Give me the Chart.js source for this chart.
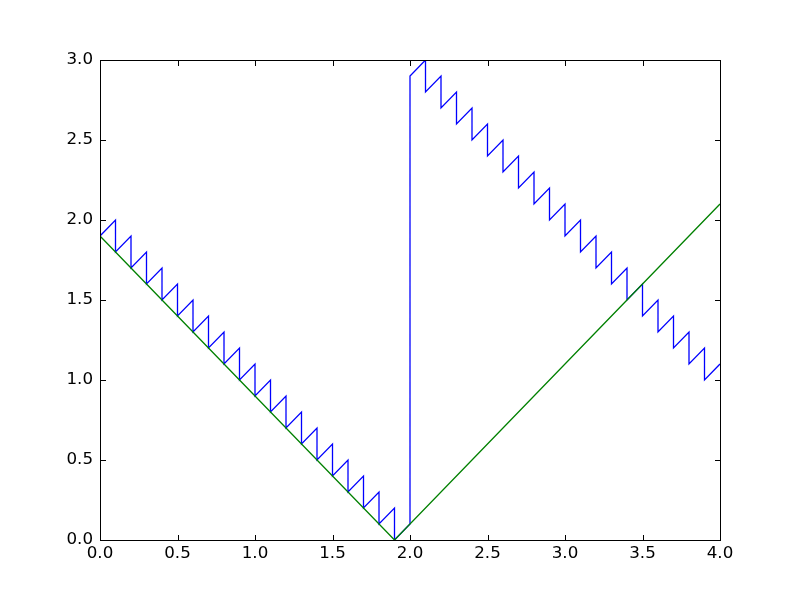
<!DOCTYPE html>
<html>
<head>
<meta charset="utf-8">
<script src="https://cdn.jsdelivr.net/npm/chart.js@4/dist/chart.umd.min.js"></script>
<style>
html,body{margin:0;padding:0;background:#fff;}
#wrap{width:800px;height:600px;position:relative;}
</style>
</head>
<body>
<div id="wrap"><canvas id="c" width="800" height="600"></canvas></div>
<script>
// Blue sawtooth series (vertices)
const blueX = [0,0.1,0.1,0.2,0.2,0.3,0.3,0.4,0.4,0.5,0.5,0.6,0.6,0.7,0.7,0.8,0.8,0.9,0.9,1.0,
  1.0,1.1,1.1,1.2,1.2,1.3,1.3,1.4,1.4,1.5,1.5,1.6,1.6,1.7,1.7,1.8,1.8,1.9,1.9,2.0,
  2.0,2.1,2.1,2.2,2.2,2.3,2.3,2.4,2.4,2.5,2.5,2.6,2.6,2.7,2.7,2.8,2.8,2.9,2.9,3.0,
  3.0,3.1,3.1,3.2,3.2,3.3,3.3,3.4,3.4,3.5,3.5,3.6,3.6,3.7,3.7,3.8,3.8,3.9,3.9,4.0];
const blueY = [1.9,2.0,1.8,1.9,1.7,1.8,1.6,1.7,1.5,1.6,1.4,1.5,1.3,1.4,1.2,1.3,1.1,1.2,1.0,1.1,
  0.9,1.0,0.8,0.9,0.7,0.8,0.6,0.7,0.5,0.6,0.4,0.5,0.3,0.4,0.2,0.3,0.1,0.2,0.0,0.1,
  2.9,3.0,2.8,2.9,2.7,2.8,2.6,2.7,2.5,2.6,2.4,2.5,2.3,2.4,2.2,2.3,2.1,2.2,2.0,2.1,
  1.9,2.0,1.8,1.9,1.7,1.8,1.6,1.7,1.5,1.6,1.4,1.5,1.3,1.4,1.2,1.3,1.1,1.2,1.0,1.1];
// Green V series
const greenX = [0.0, 1.9, 4.0];
const greenY = [1.9, 0.0, 2.1];
// Tick labels
const xTicks = [0.0,0.5,1.0,1.5,2.0,2.5,3.0,3.5,4.0];
const yTicks = [0.0,0.5,1.0,1.5,2.0,2.5,3.0];

const toPts = (xs, ys) => xs.map((x, i) => ({x: x, y: ys[i]}));

const frameTicks = {
  id: 'frameTicks',
  afterDatasetsDraw(chart) {
    const ctx = chart.ctx, a = chart.chartArea;
    const xs = chart.scales.x, ys = chart.scales.y;
    const L = Math.round(a.left) + 0.5, R = Math.round(a.right) + 0.5;
    const T = Math.round(a.top) + 0.5, B = Math.round(a.bottom) + 0.5;
    const tl = 5.5;
    ctx.save();
    ctx.strokeStyle = '#000';
    ctx.lineWidth = 1;
    ctx.beginPath();
    xTicks.forEach(v => {
      const p = Math.round(xs.getPixelForValue(v)) + 0.5;
      ctx.moveTo(p, B); ctx.lineTo(p, B - tl);
      ctx.moveTo(p, T); ctx.lineTo(p, T + tl);
    });
    yTicks.forEach(v => {
      const p = Math.round(ys.getPixelForValue(v)) + 0.5;
      ctx.moveTo(L, p); ctx.lineTo(L + tl, p);
      ctx.moveTo(R, p); ctx.lineTo(R - tl, p);
    });
    ctx.stroke();
    ctx.strokeRect(L, T, R - L, B - T);
    ctx.restore();
  }
};

const font = {family: '"DejaVu Sans", sans-serif', size: 16.7};

new Chart(document.getElementById('c'), {
  type: 'scatter',
  data: {
    datasets: [
      {data: toPts(greenX, greenY), showLine: true, borderColor: '#008000', borderWidth: 1.3,
       pointRadius: 0, fill: false, tension: 0},
      {data: toPts(blueX, blueY), showLine: true, borderColor: '#0000ff', borderWidth: 1.3,
       pointRadius: 0, fill: false, tension: 0}
    ]
  },
  options: {
    responsive: false,
    animation: false,
    devicePixelRatio: 1,
    layout: {padding: {left: 0, top: 60, right: 80, bottom: 0}},
    plugins: {legend: {display: false}, tooltip: {enabled: false}},
    scales: {
      x: {
        type: 'linear', min: 0, max: 4,
        grid: {display: false, drawTicks: false},
        border: {display: false},
        afterBuildTicks(s) { s.ticks = xTicks.map(v => ({value: v})); },
        afterFit(s) { s.height = 60; },
        ticks: {color: '#000', font: font, padding: 4, maxRotation: 0, autoSkip: false,
                callback: v => v.toFixed(1)}
      },
      y: {
        type: 'linear', min: 0, max: 3,
        grid: {display: false, drawTicks: false},
        border: {display: false},
        afterBuildTicks(s) { s.ticks = yTicks.map(v => ({value: v})); },
        afterFit(s) { s.width = 100; },
        ticks: {color: '#000', font: font, padding: 7, autoSkip: false,
                callback: v => v.toFixed(1)}
      }
    }
  },
  plugins: [frameTicks]
});
</script>
</body>
</html>
